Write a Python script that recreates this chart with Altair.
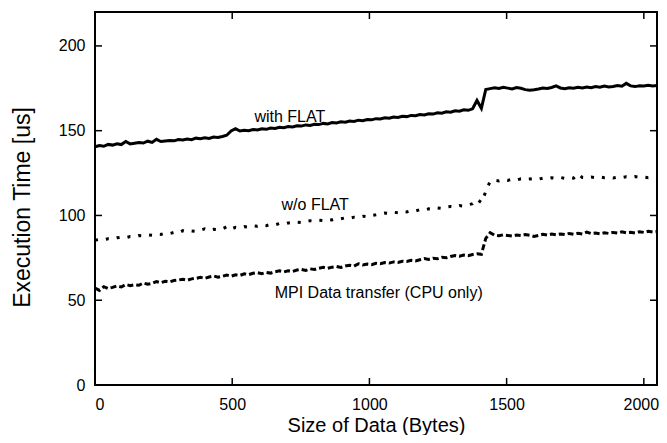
import altair as alt
import pandas as pd

# ---- data ----
x_bytes = list(range(0, 2049, 16))

with_flat = [
    140.5, 141.2, 140.8, 141.9, 141.5, 142.3, 141.8, 143.6, 142.2, 142.6, 143.0, 142.7, 143.8, 143.1, 144.9, 143.6,
    143.9, 144.2, 144.0, 144.8, 144.5, 145.1, 144.7, 145.6, 145.3, 145.8, 145.4, 146.2, 146.0, 146.6, 147.3, 149.8,
    151.2,
    149.8, 150.3, 150.0, 150.7, 150.4, 151.1, 150.8, 151.6,
    151.3, 152.0, 151.8, 152.5, 152.2, 152.9, 152.7, 153.4,
    153.1, 153.8, 153.6, 154.3, 154.0, 154.8, 154.5, 155.2,
    155.0, 155.7, 155.4, 156.2, 155.9, 156.6, 156.4, 157.1,
    156.9, 157.6, 157.3, 158.1, 157.8, 158.5, 158.3, 159.0,
    158.8, 159.5, 159.3, 160.0, 159.8, 160.6, 160.3, 161.1,
    160.9, 161.7, 161.5, 162.3, 162.0, 162.9, 167.8, 163.2,
    174.3, 174.8, 175.3, 174.9, 175.6, 175.1, 174.6, 175.4, 175.0, 174.2,
    173.8, 174.1, 174.6, 175.2, 174.9, 175.5, 176.4,
    175.2, 174.8, 175.3, 175.0, 175.6, 175.2, 175.8, 175.3, 176.0, 175.6, 176.3, 175.8,
    176.1, 176.6, 176.2, 177.9,
    176.4, 176.0, 176.5, 176.3, 176.8, 176.4, 176.6,
]

wo_flat = [
    85.4, 85.9, 85.7, 86.3, 86.1, 86.8, 87.2, 86.9, 87.6, 87.4, 88.1, 87.9, 88.6, 88.3, 89.0, 88.8,
    89.6, 89.3, 90.0, 89.7, 91.0, 90.3, 90.9, 90.6,
    91.3, 92.1, 91.2, 91.8, 91.6, 92.0, 93.4, 91.9,
    93.0, 92.7, 93.4, 93.1, 93.9, 93.6, 94.3, 94.0,
    94.8, 94.5, 95.2, 94.9, 95.6, 95.3, 96.0, 95.8,
    96.5, 96.9, 96.6, 97.2, 97.0, 97.7, 97.4, 98.1,
    98.0, 98.6, 98.3, 99.0, 98.8, 99.5, 99.2, 100.0,
    100.4, 100.9, 101.4, 101.1, 101.9, 101.6, 102.4, 102.1,
    102.9, 102.6, 103.4, 103.1, 103.9, 103.6, 104.4, 104.1,
    104.9, 105.3, 105.0, 105.8, 105.5, 106.3, 106.9, 109.5, 107.6, 114.0, 120.2,
    120.8, 120.4, 121.1, 120.7, 121.3, 120.9, 121.6, 121.2,
    121.5, 121.9, 121.4, 122.0, 121.7, 122.2, 121.8, 122.4,
    121.9, 122.3, 122.0, 124.5,
    122.4, 122.1, 122.6, 122.2, 122.7, 122.3, 122.5,
    122.1, 122.6, 122.3, 122.8, 122.4, 122.9, 122.5, 122.7, 122.3, 122.6, 122.4,
]

mpi = [
    57.2, 55.8, 58.0, 56.9, 57.6, 58.4, 57.8, 59.3,
    58.6, 59.1, 58.8, 60.2, 59.4, 59.9, 61.0, 60.3,
    61.2, 60.8, 61.6, 61.9, 62.4, 61.8, 62.6, 62.9,
    63.5, 62.9, 63.7, 64.3, 63.6, 64.1, 64.8, 64.2,
    65.0, 64.6, 65.6, 65.1, 65.9, 66.3, 65.7, 66.4,
    66.0, 66.8, 67.3, 66.7, 67.4, 67.0, 67.8, 68.2,
    67.6, 68.5, 68.1, 68.9, 69.4, 68.8, 69.5, 69.9,
    69.3, 70.2, 70.6, 70.1, 71.5, 70.8, 71.3, 71.0,
    71.8, 71.5, 72.2, 71.9, 72.6, 72.3, 73.0, 72.8,
    73.5, 73.2, 73.9, 74.6, 74.1, 74.8, 74.5, 75.3,
    75.0, 75.8, 76.4, 75.9, 76.6, 76.3, 77.0, 77.4, 77.1, 86.5, 89.8,
    88.3, 88.0, 88.6, 88.2, 87.8, 88.4, 88.1,
    88.7, 88.3, 87.6, 88.2, 88.9, 88.4, 89.0, 88.6,
    89.1, 88.7, 89.4, 88.9, 89.5, 89.1, 90.2, 89.3,
    89.6, 89.2, 89.8, 89.4, 90.0, 89.6, 90.3, 89.8,
    90.1, 89.7, 90.4, 90.0, 90.6, 90.2, 90.5,
]

assert len(with_flat) == len(x_bytes) == len(wo_flat) == len(mpi)

x_ticks = [0, 500, 1000, 1500, 2000]
y_ticks = [0, 50, 100, 150, 200]

label_text = ["with FLAT", "w/o FLAT", "MPI Data transfer (CPU only)"]
label_x = [710, 925, 1413]
label_y = [158.3, 106, 54]
label_align = ["center", "right", "right"]

# ---- chart ----
W, H = 562, 373
FONT = "Liberation Sans"

xs = alt.Scale(domain=[0, 2048], nice=False, zero=False)
ys = alt.Scale(domain=[0, 220], nice=False)

x_enc = alt.X("x:Q", scale=xs, axis=alt.Axis(
    title="Size of Data (Bytes)", values=x_ticks, ticks=False, tickSize=0, domain=False,
    grid=False, labelPadding=11, titleBaseline="alphabetic", titleY=46, format="d",
    labelOffset={"condition": {"test": "datum.value == 2000", "value": -3}, "value": 0},
    labelFont=FONT, labelFontSize=16, labelColor="black",
    titleFont=FONT, titleFontSize=20, titleFontWeight="normal", titleColor="black"))
y_enc = alt.Y("y:Q", scale=ys, axis=alt.Axis(
    title="Execution Time [us]", values=y_ticks, ticks=False, tickSize=0, domain=False,
    grid=False, labelPadding=10, titlePadding=24, titleY=195, format="d",
    labelFont=FONT, labelFontSize=16, labelColor="black",
    titleFont=FONT, titleFontSize=23, titleFontWeight="normal", titleColor="black"))

def series(vals):
    return pd.DataFrame({"x": x_bytes, "y": vals})

l_flat = alt.Chart(series(with_flat)).mark_line(color="black", strokeWidth=3).encode(x=x_enc, y=y_enc)
l_wo = alt.Chart(series(wo_flat)).mark_line(color="black", strokeWidth=3, strokeDash=[3, 8]).encode(x=x_enc, y=y_enc)
l_mpi = alt.Chart(series(mpi)).mark_line(color="black", strokeWidth=3, strokeDash=[6, 3]).encode(x=x_enc, y=y_enc)

tx = pd.DataFrame({"x": x_ticks})
ty = pd.DataFrame({"y": y_ticks})
TL = 7
tick_b = alt.Chart(tx).mark_rule(color="black", strokeWidth=1.5).encode(x=x_enc, y=alt.value(H), y2=alt.value(H - TL))
tick_t = alt.Chart(tx).mark_rule(color="black", strokeWidth=1.5).encode(x=x_enc, y=alt.value(0), y2=alt.value(TL))
tick_l = alt.Chart(ty).mark_rule(color="black", strokeWidth=1.5).encode(y=y_enc, x=alt.value(0), x2=alt.value(TL))
tick_r = alt.Chart(ty).mark_rule(color="black", strokeWidth=1.5).encode(y=y_enc, x=alt.value(W), x2=alt.value(W - TL))

labels = pd.DataFrame({"x": label_x, "y": label_y, "t": label_text, "a": label_align})
texts = []
for i in range(len(label_text)):
    texts.append(
        alt.Chart(labels.iloc[[i]]).mark_text(
            font=FONT, fontSize=16, color="black", align=label_align[i], baseline="middle"
        ).encode(x=x_enc, y=y_enc, text="t:N")
    )

chart = alt.layer(l_flat, l_wo, l_mpi, tick_b, tick_t, tick_l, tick_r, *texts).properties(
    width=W, height=H,
    padding={"left": 87, "top": 4, "right": 2, "bottom": 50},
    autosize=alt.AutoSizeParams(type="none"),
    background="white",
).configure_view(
    stroke="black", strokeWidth=2
)

chart.save("out.html", embed_options={"renderer": "svg", "actions": False})
